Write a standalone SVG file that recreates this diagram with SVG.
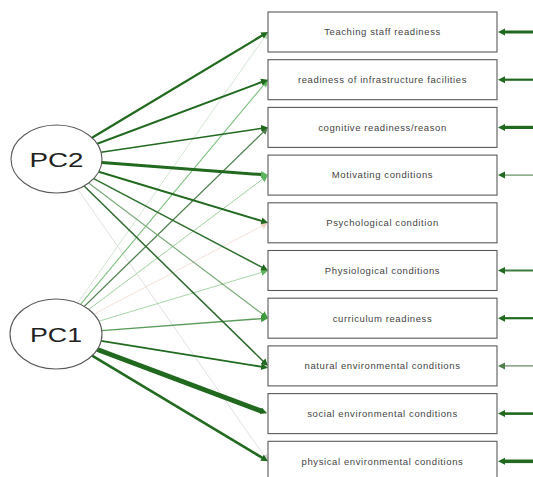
<svg xmlns="http://www.w3.org/2000/svg" width="533" height="477" viewBox="0 0 533 477">
<style>
.box{fill:#fff;stroke:#5a5a5a;stroke-width:1.1}
.ell{fill:#fff;stroke:#5a5a5a;stroke-width:1.1}
.lbl{font-family:"Liberation Sans",Arial,sans-serif;font-size:9.5px;letter-spacing:0.6px;fill:#444;text-anchor:middle}
.pc{font-family:"Liberation Sans",Arial,sans-serif;font-size:20px;fill:#222;text-anchor:middle}
line{fill:none}
.dk{stroke:#21691f}
.md{stroke:#4f7f4f}
.lg{stroke:#7fbf7f}
.mg{stroke:#5a9a5a}
.fg{stroke:#cfe2cf}
.gr{stroke:#dcdcdc}
.pk{stroke:#f1dcd4}
</style>
<defs>
<marker id="aDk" markerUnits="userSpaceOnUse" markerWidth="8" markerHeight="8" viewBox="0 -4 8 8" refX="1" refY="0" orient="auto"><path d="M0,-3.5L7,0L0,3.5z" fill="#21691f"/></marker>
<marker id="aMd" markerUnits="userSpaceOnUse" markerWidth="8" markerHeight="8" viewBox="0 -4 8 8" refX="1" refY="0" orient="auto"><path d="M0,-3.5L7,0L0,3.5z" fill="#4f7f4f"/></marker>
<marker id="aLg" markerUnits="userSpaceOnUse" markerWidth="8" markerHeight="8" viewBox="0 -4 8 8" refX="1" refY="0" orient="auto"><path d="M0,-3.5L7,0L0,3.5z" fill="#5fb45f"/></marker>
<marker id="aMg" markerUnits="userSpaceOnUse" markerWidth="8" markerHeight="8" viewBox="0 -4 8 8" refX="1" refY="0" orient="auto"><path d="M0,-3.5L7,0L0,3.5z" fill="#3d9a3d"/></marker>
<marker id="aFg" markerUnits="userSpaceOnUse" markerWidth="8" markerHeight="8" viewBox="0 -4 8 8" refX="1" refY="0" orient="auto"><path d="M0,-3.5L7,0L0,3.5z" fill="#b8d6b8"/></marker>
<marker id="aGr" markerUnits="userSpaceOnUse" markerWidth="8" markerHeight="8" viewBox="0 -4 8 8" refX="1" refY="0" orient="auto"><path d="M0,-3.5L7,0L0,3.5z" fill="#d4d4d4"/></marker>
<marker id="aPk" markerUnits="userSpaceOnUse" markerWidth="8" markerHeight="8" viewBox="0 -4 8 8" refX="1" refY="0" orient="auto"><path d="M0,-3.5L7,0L0,3.5z" fill="#efd2c6"/></marker>
</defs>
<g id="connectors">
<!-- faint lines first -->
<line class="gr" x1="77.6" y1="189.1" x2="264.6" y2="456.4" stroke-width="0.9" marker-end="url(#aGr)"/>
<line class="fg" x1="77.7" y1="303.1" x2="264.6" y2="36.9" stroke-width="0.9" marker-end="url(#aFg)"/>
<line class="pk" x1="93.9" y1="314.1" x2="262.7" y2="225.6" stroke-width="0.9" marker-end="url(#aPk)"/>
<line class="lg" x1="80.6" y1="304.4" x2="264.2" y2="84.3" stroke-width="1.1" marker-end="url(#aLg)"/>
<line class="lg" x1="88.8" y1="309.4" x2="263.2" y2="178.7" stroke-width="1" style="stroke:#9fd09f" marker-end="url(#aLg)"/>
<line class="lg" x1="98.8" y1="321.2" x2="262.3" y2="272.2" stroke-width="1" style="stroke:#a8d4a8" marker-end="url(#aLg)"/>
<line class="md" x1="84.3" y1="306.4" x2="263.7" y2="131.6" stroke-width="1.3" marker-end="url(#aMd)"/>
<line class="mg" x1="88.6" y1="183.1" x2="263.2" y2="314.6" stroke-width="1.2" style="stroke:#7aaa7a" marker-end="url(#aMg)"/>
<line class="mg" x1="101.8" y1="330.6" x2="262.0" y2="318.6" stroke-width="1.4" marker-end="url(#aMg)"/>
<!-- PC2 strong -->
<line class="dk" x1="92.0" y1="137.7" x2="262.9" y2="35.1" stroke-width="2.3" marker-end="url(#aDk)"/>
<line class="dk" x1="97.2" y1="143.8" x2="262.4" y2="81.8" stroke-width="2" marker-end="url(#aDk)"/>
<line class="dk" x1="101.1" y1="152.3" x2="262.1" y2="128.3" stroke-width="1.5" marker-end="url(#aDk)"/>
<line class="dk" x1="101.8" y1="162.4" x2="262.0" y2="174.6" stroke-width="3" marker-end="url(#aLg)"/>
<line class="dk" x1="98.7" y1="171.7" x2="262.3" y2="221.1" stroke-width="2" marker-end="url(#aDk)"/>
<line class="dk" x1="93.7" y1="178.6" x2="262.7" y2="267.7" stroke-width="1.5" style="stroke:#2f6f2f" marker-end="url(#aDk)"/>
<line class="dk" x1="84.1" y1="186.0" x2="263.7" y2="361.7" stroke-width="1.5" style="stroke:#2f6a2f" marker-end="url(#aDk)"/>
<!-- PC1 strong -->
<line class="dk" x1="101.1" y1="340.8" x2="262.1" y2="366.8" stroke-width="1.8" marker-end="url(#aDk)"/>
<line class="dk" x1="97.3" y1="349.5" x2="261.5" y2="411.2" stroke-width="5" marker-end="url(#aDk)"/>
<line class="dk" x1="92.1" y1="355.7" x2="262.9" y2="458.2" stroke-width="2.6" marker-end="url(#aDk)"/>
<!-- right-side arrows -->
<line class="dk" x1="533" y1="32" x2="504" y2="32" stroke-width="3" marker-end="url(#aDk)"/>
<line class="dk" x1="533" y1="79.7" x2="504" y2="79.7" stroke-width="2.2" marker-end="url(#aDk)"/>
<line class="dk" x1="533" y1="127.4" x2="504" y2="127.4" stroke-width="3.2" marker-end="url(#aDk)"/>
<line class="md" x1="533" y1="175.1" x2="504" y2="175.1" stroke-width="1.2" style="stroke:#5f8f5f" marker-end="url(#aDk)"/>
<line class="dk" x1="533" y1="270.5" x2="504" y2="270.5" stroke-width="2" style="stroke:#3f7a3f" marker-end="url(#aDk)"/>
<line class="dk" x1="533" y1="318.2" x2="504" y2="318.2" stroke-width="2.2" marker-end="url(#aDk)"/>
<line class="md" x1="533" y1="365.9" x2="504" y2="365.9" stroke-width="1.3" style="stroke:#6f8f6f" marker-end="url(#aMd)"/>
<line class="dk" x1="533" y1="413.6" x2="504" y2="413.6" stroke-width="2.6" marker-end="url(#aDk)"/>
<line class="dk" x1="533" y1="461.3" x2="504" y2="461.3" stroke-width="3.6" marker-end="url(#aDk)"/>
</g>
<g id="n1"><rect class="box" x="268" y="12" width="229" height="40"/><text class="lbl" x="382.5" y="35.3">Teaching staff readiness</text></g>
<g id="n2"><rect class="box" x="268" y="59.7" width="229" height="40"/><text class="lbl" x="382.5" y="83">readiness of infrastructure facilities</text></g>
<g id="n3"><rect class="box" x="268" y="107.4" width="229" height="40"/><text class="lbl" x="382.5" y="130.7">cognitive readiness/reason</text></g>
<g id="n4"><rect class="box" x="268" y="155.1" width="229" height="40"/><text class="lbl" x="382.5" y="178.4">Motivating conditions</text></g>
<g id="n5"><rect class="box" x="268" y="202.8" width="229" height="40"/><text class="lbl" x="382.5" y="226.1">Psychological condition</text></g>
<g id="n6"><rect class="box" x="268" y="250.5" width="229" height="40"/><text class="lbl" x="382.5" y="273.8">Physiological conditions</text></g>
<g id="n7"><rect class="box" x="268" y="298.2" width="229" height="40"/><text class="lbl" x="382.5" y="321.5">curriculum readiness</text></g>
<g id="n8"><rect class="box" x="268" y="345.9" width="229" height="40"/><text class="lbl" x="382.5" y="369.2">natural environmental conditions</text></g>
<g id="n9"><rect class="box" x="268" y="393.6" width="229" height="40"/><text class="lbl" x="382.5" y="416.9">social environmental conditions</text></g>
<g id="n10"><rect class="box" x="268" y="441.3" width="229" height="40"/><text class="lbl" x="382.5" y="464.6">physical environmental conditions</text></g>
<g id="PC2"><ellipse class="ell" cx="56.5" cy="159" rx="45.5" ry="34"/><text class="pc" x="56.5" y="166.5" textLength="54" lengthAdjust="spacingAndGlyphs">PC2</text></g>
<g id="PC1"><ellipse class="ell" cx="56" cy="334" rx="46" ry="35"/><text class="pc" x="56" y="341.5" textLength="52" lengthAdjust="spacingAndGlyphs">PC1</text></g>
</svg>
